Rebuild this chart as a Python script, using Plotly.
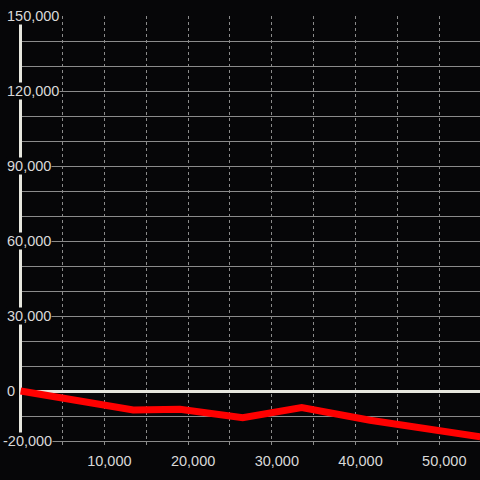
import plotly.graph_objects as go

# Data
x_vals = [0, 13450, 19030, 26520, 33570, 41730, 54900]
y_vals = [0, -7600, -7300, -10650, -6650, -11700, -18350]

x_tick_vals = [10000, 20000, 30000, 40000, 50000]
x_tick_text = ["10,000", "20,000", "30,000", "40,000", "50,000"]
y_tick_vals = [-20000, 0, 30000, 60000, 90000, 120000, 150000]
y_tick_text = ["-20,000", "0", "30,000", "60,000", "90,000", "120,000", "150,000"]

BG = "#060608"
GRID = "#8a8a8a"
AXIS_WHITE = "#e6e6de"
TEXT = "#d9d9d9"
FONT = "Liberation Sans, Arial, sans-serif"
FSIZE = 14.5

fig = go.Figure()
fig.add_trace(go.Scatter(
    x=x_vals, y=y_vals, mode="lines",
    line=dict(color="#ff0000", width=7),
    hoverinfo="skip", showlegend=False,
))

annotations = []
for v, t in zip(y_tick_vals, y_tick_text):
    annotations.append(dict(
        xref="paper", yref="y", x=0, y=v, text=t, showarrow=False,
        xanchor="left", yanchor="middle", xshift=-13 - (4 if v < 0 else 0),
        font=dict(family=FONT, size=FSIZE, color=TEXT),
        bgcolor=BG, borderpad=0,
    ))

fig.update_layout(
    width=480, height=480,
    margin=dict(l=19, r=0, t=16, b=32),
    paper_bgcolor=BG, plot_bgcolor=BG,
    font=dict(family=FONT, size=FSIZE, color=TEXT),
    showlegend=False,
    annotations=annotations,
    xaxis=dict(
        range=[-195, 54865],
        tickmode="array", tickvals=x_tick_vals, ticktext=x_tick_text,
        ticks="", ticklabelshift=5, ticklabelstandoff=2,
        showgrid=True, gridcolor=GRID, gridwidth=1, griddash="dot",
        minor=dict(tickmode="linear", tick0=0, dtick=5000, showgrid=True,
                   gridcolor=GRID, gridwidth=1, griddash="dot"),
        zeroline=True, zerolinecolor=AXIS_WHITE, zerolinewidth=3,
        showline=False,
        tickfont=dict(family=FONT, size=FSIZE, color=TEXT),
    ),
    yaxis=dict(
        range=[-22800, 150000],
        tickmode="linear", tick0=0, dtick=10000,
        showticklabels=False, ticks="",
        showgrid=True, gridcolor=GRID, gridwidth=1,
        zeroline=True, zerolinecolor=AXIS_WHITE, zerolinewidth=3,
        showline=False,
    ),
)

fig.write_html(
    "out.html",
    config={"displayModeBar": False},
    post_script="document.body.style.margin='0';document.body.style.background='#060608';",
)
